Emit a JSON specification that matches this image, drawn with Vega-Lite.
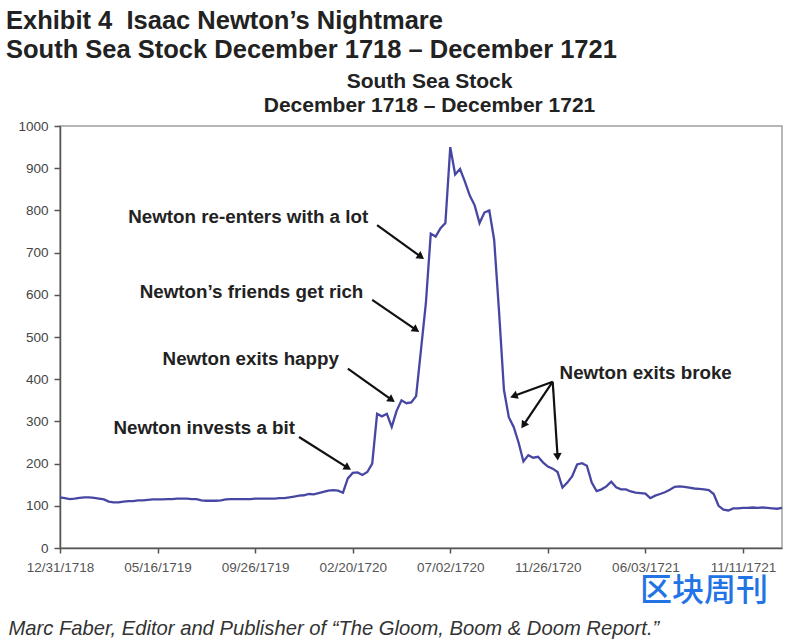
{
"$schema": "https://vega.github.io/schema/vega-lite/v6.json",
"width": 722,
"height": 422,
"autosize": {"type": "none"},
"padding": {"left": 60, "top": 126, "right": 18, "bottom": 93},
"background": "white",
"config": {
  "font": "Liberation Sans",
  "view": {"stroke": "#a0a0a0", "strokeWidth": 1.5},
  "axis": {"grid": false, "domainColor": "#555", "domainWidth": 1.5, "tickColor": "#555", "tickWidth": 1.5, "labelFont": "Liberation Sans", "titleFont": "Liberation Sans"}
},
"title": {"text": ["Exhibit 4\u00a0\u00a0Isaac Newton’s Nightmare", "South Sea Stock December 1718 – December 1721"], "anchor": "start", "frame": "bounds", "fontSize": 25.5, "fontWeight": "bold", "color": "#222", "lineHeight": 28.5, "offset": 7, "dx": -2},
"datasets": {
  "price": [
    {"date":"12/31/1718","v":120},{"date":"01/07/1719","v":118},{"date":"01/14/1719","v":116},{"date":"01/21/1719","v":117},{"date":"01/28/1719","v":119},
    {"date":"02/04/1719","v":120},{"date":"02/11/1719","v":120},{"date":"02/18/1719","v":119},{"date":"02/25/1719","v":117},{"date":"03/04/1719","v":115},
    {"date":"03/11/1719","v":110},{"date":"03/18/1719","v":108},{"date":"03/25/1719","v":108},{"date":"04/01/1719","v":110},{"date":"04/08/1719","v":111},
    {"date":"04/15/1719","v":111},{"date":"04/22/1719","v":113},{"date":"04/28/1719","v":113},{"date":"05/04/1719","v":114},{"date":"05/10/1719","v":115},
    {"date":"05/16/1719","v":115},{"date":"05/23/1719","v":115},{"date":"05/30/1719","v":116},{"date":"06/06/1719","v":116},{"date":"06/13/1719","v":117},
    {"date":"06/20/1719","v":117},{"date":"06/27/1719","v":117},{"date":"07/04/1719","v":116},{"date":"07/11/1719","v":116},{"date":"07/18/1719","v":113},
    {"date":"07/25/1719","v":112},{"date":"08/01/1719","v":112},{"date":"08/08/1719","v":112},{"date":"08/15/1719","v":113},{"date":"08/21/1719","v":115},
    {"date":"08/27/1719","v":116},{"date":"09/02/1719","v":116},{"date":"09/08/1719","v":116},{"date":"09/14/1719","v":116},{"date":"09/20/1719","v":116},
    {"date":"09/26/1719","v":117},{"date":"10/03/1719","v":117},{"date":"10/10/1719","v":117},{"date":"10/17/1719","v":117},{"date":"10/24/1719","v":117},
    {"date":"10/31/1719","v":118},{"date":"11/07/1719","v":118},{"date":"11/14/1719","v":120},{"date":"11/21/1719","v":122},{"date":"11/28/1719","v":124},
    {"date":"12/05/1719","v":125},{"date":"12/12/1719","v":128},{"date":"12/19/1719","v":127},{"date":"12/26/1719","v":130},{"date":"01/03/1720","v":133},
    {"date":"01/11/1720","v":136},{"date":"01/19/1720","v":137},{"date":"01/27/1720","v":136},{"date":"02/04/1720","v":131},{"date":"02/12/1720","v":165},
    {"date":"02/20/1720","v":178},{"date":"02/27/1720","v":179},{"date":"03/05/1720","v":173},{"date":"03/12/1720","v":180},{"date":"03/19/1720","v":200},
    {"date":"03/26/1720","v":318},{"date":"04/02/1720","v":312},{"date":"04/09/1720","v":318},{"date":"04/16/1720","v":287},{"date":"04/23/1720","v":325},
    {"date":"04/30/1720","v":350},{"date":"05/07/1720","v":343},{"date":"05/14/1720","v":345},{"date":"05/21/1720","v":360},{"date":"05/27/1720","v":470},
    {"date":"06/02/1720","v":580},{"date":"06/08/1720","v":745},{"date":"06/14/1720","v":738},{"date":"06/20/1720","v":758},{"date":"06/26/1720","v":770},
    {"date":"07/02/1720","v":950},{"date":"07/09/1720","v":885},{"date":"07/16/1720","v":898},{"date":"07/23/1720","v":868},{"date":"07/30/1720","v":835},
    {"date":"08/06/1720","v":812},{"date":"08/13/1720","v":770},{"date":"08/20/1720","v":795},{"date":"08/27/1720","v":800},{"date":"09/03/1720","v":730},
    {"date":"09/10/1720","v":560},{"date":"09/17/1720","v":375},{"date":"09/24/1720","v":310},{"date":"10/01/1720","v":287},{"date":"10/09/1720","v":250},
    {"date":"10/17/1720","v":205},{"date":"10/25/1720","v":220},{"date":"11/02/1720","v":214},{"date":"11/10/1720","v":216},{"date":"11/18/1720","v":203},
    {"date":"11/26/1720","v":193},{"date":"12/05/1720","v":188},{"date":"12/14/1720","v":180},{"date":"12/23/1720","v":143},{"date":"01/01/1721","v":155},
    {"date":"01/10/1721","v":170},{"date":"01/19/1721","v":198},{"date":"01/28/1721","v":201},{"date":"02/06/1721","v":195},{"date":"02/15/1721","v":155},
    {"date":"02/24/1721","v":135},{"date":"03/05/1721","v":139},{"date":"03/15/1721","v":146},{"date":"03/25/1721","v":157},{"date":"04/04/1721","v":144},
    {"date":"04/14/1721","v":139},{"date":"04/24/1721","v":139},{"date":"05/04/1721","v":134},{"date":"05/14/1721","v":131},{"date":"05/24/1721","v":130},
    {"date":"06/03/1721","v":129},{"date":"06/11/1721","v":118},{"date":"06/19/1721","v":124},{"date":"06/27/1721","v":128},{"date":"07/05/1721","v":132},
    {"date":"07/13/1721","v":138},{"date":"07/21/1721","v":145},{"date":"07/29/1721","v":146},{"date":"08/06/1721","v":145},{"date":"08/14/1721","v":143},
    {"date":"08/22/1721","v":141},{"date":"08/30/1721","v":140},{"date":"09/07/1721","v":139},{"date":"09/15/1721","v":137},{"date":"09/23/1721","v":128},
    {"date":"10/01/1721","v":100},{"date":"10/09/1721","v":91},{"date":"10/17/1721","v":89},{"date":"10/25/1721","v":94},{"date":"11/02/1721","v":94},
    {"date":"11/11/1721","v":95},{"date":"11/17/1721","v":95},{"date":"11/23/1721","v":96},{"date":"11/29/1721","v":95},{"date":"12/05/1721","v":96},
    {"date":"12/11/1721","v":95},{"date":"12/17/1721","v":94},{"date":"12/23/1721","v":93},{"date":"12/29/1721","v":95}
  ],
  "notes": [
    {"label":"Newton invests a bit","date":"11/28/1719","v":284},
    {"label":"Newton exits happy","date":"02/04/1720","v":447},
    {"label":"Newton’s friends get rich","date":"03/12/1720","v":607},
    {"label":"Newton re-enters with a lot","date":"03/19/1720","v":785},
    {"label":"Newton exits broke","date":"12/14/1720","v":414}
  ],
  "arrows": [
    {"name":"a1","date":"11/28/1719","v":263,"date2":"02/12/1720","v2":190},
    {"name":"a2","date":"02/12/1720","v":425,"date2":"04/16/1720","v2":351},
    {"name":"a3","date":"03/19/1720","v":588,"date2":"05/21/1720","v2":517},
    {"name":"a4","date":"03/26/1720","v":765,"date2":"05/27/1720","v2":690},
    {"name":"a5","date":"12/05/1720","v":394,"date2":"10/01/1720","v2":360},
    {"name":"a6","date":"12/05/1720","v":394,"date2":"10/17/1720","v2":291},
    {"name":"a7","date":"12/05/1720","v":394,"date2":"12/14/1720","v2":216}
  ]
},
"layer": [
  {
    "data": {"name": "price"},
    "mark": {"type": "line", "color": "#4747a3", "strokeWidth": 2.3},
    "encoding": {
      "x": {"field": "date", "type": "ordinal", "sort": null, "scale": {"type": "point", "padding": 0},
        "axis": {"values": ["12/31/1718","05/16/1719","09/26/1719","02/20/1720","07/02/1720","11/26/1720","06/03/1721","11/11/1721"],
          "labelAngle": 0, "labelOverlap": false, "labelFontSize": 13.5, "labelColor": "#555", "tickSize": 5, "labelPadding": 7,
          "title": "Marc Faber, Editor and Publisher of “The Gloom, Boom & Doom Report.”",
          "titleX": -52, "titleY": 86, "titleAlign": "left", "titleAnchor": "start", "titleBaseline": "alphabetic",
          "titleFontSize": 20.2, "titleFontStyle": "italic", "titleFontWeight": "normal", "titleColor": "#333"}},
      "y": {"field": "v", "type": "quantitative", "scale": {"domain": [0, 1000], "nice": false},
        "axis": {"values": [0,100,200,300,400,500,600,700,800,900,1000], "format": "d", "labelFontSize": 13.5, "labelColor": "#444", "tickSize": 6, "labelPadding": 6,
          "title": ["South Sea Stock", "December 1718 – December 1721"],
          "titleAngle": 0, "titleAlign": "center", "titleBaseline": "alphabetic", "titleX": 369, "titleY": -39,
          "titleFontSize": 21, "titleFontWeight": "bold", "titleColor": "#222", "titleLineHeight": 24.5}}
    }
  },
  {
    "data": {"name": "arrows"},
    "mark": {"type": "rule", "color": "#111", "strokeWidth": 2.2},
    "encoding": {
      "x": {"field": "date", "type": "ordinal", "sort": null},
      "x2": {"field": "date2"},
      "y": {"field": "v", "type": "quantitative"},
      "y2": {"field": "v2"}
    }
  },
  {"data": {"name": "arrows"}, "transform": [{"filter": {"field": "name", "equal": "a1"}}],
   "mark": {"type": "point", "shape": "triangle-up", "filled": true, "color": "#111", "opacity": 1, "size": 75, "angle": 122.3},
   "encoding": {"x": {"field": "date2", "type": "ordinal", "sort": null}, "y": {"field": "v2", "type": "quantitative"}}},
  {"data": {"name": "arrows"}, "transform": [{"filter": {"field": "name", "equal": "a2"}}],
   "mark": {"type": "point", "shape": "triangle-up", "filled": true, "color": "#111", "opacity": 1, "size": 75, "angle": 125.4},
   "encoding": {"x": {"field": "date2", "type": "ordinal", "sort": null}, "y": {"field": "v2", "type": "quantitative"}}},
  {"data": {"name": "arrows"}, "transform": [{"filter": {"field": "name", "equal": "a3"}}],
   "mark": {"type": "point", "shape": "triangle-up", "filled": true, "color": "#111", "opacity": 1, "size": 75, "angle": 124.3},
   "encoding": {"x": {"field": "date2", "type": "ordinal", "sort": null}, "y": {"field": "v2", "type": "quantitative"}}},
  {"data": {"name": "arrows"}, "transform": [{"filter": {"field": "name", "equal": "a4"}}],
   "mark": {"type": "point", "shape": "triangle-up", "filled": true, "color": "#111", "opacity": 1, "size": 75, "angle": 125.7},
   "encoding": {"x": {"field": "date2", "type": "ordinal", "sort": null}, "y": {"field": "v2", "type": "quantitative"}}},
  {"data": {"name": "arrows"}, "transform": [{"filter": {"field": "name", "equal": "a5"}}],
   "mark": {"type": "point", "shape": "triangle-up", "filled": true, "color": "#111", "opacity": 1, "size": 75, "angle": 249.7},
   "encoding": {"x": {"field": "date2", "type": "ordinal", "sort": null}, "y": {"field": "v2", "type": "quantitative"}}},
  {"data": {"name": "arrows"}, "transform": [{"filter": {"field": "name", "equal": "a6"}}],
   "mark": {"type": "point", "shape": "triangle-up", "filled": true, "color": "#111", "opacity": 1, "size": 75, "angle": 214},
   "encoding": {"x": {"field": "date2", "type": "ordinal", "sort": null}, "y": {"field": "v2", "type": "quantitative"}}},
  {"data": {"name": "arrows"}, "transform": [{"filter": {"field": "name", "equal": "a7"}}],
   "mark": {"type": "point", "shape": "triangle-up", "filled": true, "color": "#111", "opacity": 1, "size": 75, "angle": 176.3},
   "encoding": {"x": {"field": "date2", "type": "ordinal", "sort": null}, "y": {"field": "v2", "type": "quantitative"}}},
  {
    "data": {"name": "notes"},
    "transform": [{"filter": "datum.label != 'Newton exits broke'"}],
    "mark": {"type": "text", "align": "right", "baseline": "middle", "dx": -4, "fontSize": 18.8, "fontWeight": "bold", "color": "#222"},
    "encoding": {
      "x": {"field": "date", "type": "ordinal", "sort": null},
      "y": {"field": "v", "type": "quantitative"},
      "text": {"field": "label"}
    }
  },
  {
    "data": {"name": "notes"},
    "transform": [{"filter": "datum.label == 'Newton exits broke'"}],
    "mark": {"type": "text", "align": "left", "baseline": "middle", "dx": 2, "fontSize": 18.8, "fontWeight": "bold", "color": "#222"},
    "encoding": {
      "x": {"field": "date", "type": "ordinal", "sort": null},
      "y": {"field": "v", "type": "quantitative"},
      "text": {"field": "label"}
    }
  },
  {
    "data": {"values": [{"mark": "区块周刊"}]},
    "mark": {"type": "text", "align": "center", "baseline": "middle", "font": "Noto Sans CJK SC", "fontSize": 32, "fontWeight": 500, "color": "#2274e6"},
    "encoding": {
      "x": {"datum": "09/07/1721", "type": "ordinal"},
      "y": {"datum": -101, "type": "quantitative"},
      "text": {"field": "mark"}
    }
  }
]
}
